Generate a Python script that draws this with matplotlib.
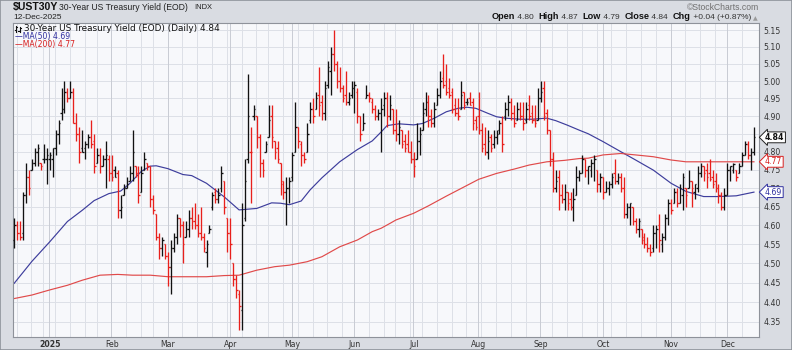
import numpy as np
import pandas as pd
import matplotlib
matplotlib.use("Agg")
import matplotlib.pyplot as plt
from matplotlib.collections import LineCollection
from matplotlib.lines import Line2D
from matplotlib import ticker, transforms
from matplotlib.patches import Rectangle

# ---------------- data ----------------
opens = [4.56, 4.60, 4.58, 4.58, 4.68, 4.73, 4.75, 4.77, 4.80, 4.77,
         4.78, 4.78, 4.78, 4.78, 4.81, 4.85, 4.91, 4.92, 4.97, 4.95,
         4.97, 4.88, 4.85, 4.81, 4.81, 4.82, 4.84, 4.83, 4.77, 4.79,
         4.76, 4.78, 4.78, 4.74, 4.75, 4.74, 4.64, 4.68, 4.70, 4.72,
         4.74, 4.76, 4.74, 4.69, 4.75, 4.77, 4.76, 4.67, 4.63, 4.57,
         4.54, 4.55, 4.52, 4.49, 4.54, 4.57, 4.62, 4.60, 4.57, 4.59,
         4.62, 4.61, 4.60, 4.58, 4.57, 4.53, 4.58, 4.65, 4.69, 4.67,
         4.70, 4.72, 4.62, 4.58, 4.50, 4.46, 4.42, 4.38, 4.62, 4.78,
         4.80, 4.90, 4.90, 4.84, 4.77, 4.80, 4.84, 4.90, 4.83, 4.81,
         4.77, 4.72, 4.69, 4.70, 4.73, 4.80, 4.87, 4.82, 4.79, 4.80,
         4.89, 4.92, 4.92, 4.96, 4.94, 4.91, 4.99, 5.03, 5.08, 5.05,
         5.00, 4.98, 4.96, 4.94, 4.96, 4.98, 4.97, 4.90, 4.86, 4.95,
         4.96, 4.94, 4.92, 4.90, 4.91, 4.93, 4.95, 4.90, 4.92, 4.86,
         4.85, 4.86, 4.83, 4.82, 4.80, 4.78, 4.78, 4.83, 4.86, 4.92,
         4.94, 4.90, 4.88, 4.93, 4.96, 5.01, 5.00, 4.98, 4.97, 4.93,
         4.91, 4.92, 4.97, 4.94, 4.95, 4.94, 4.89, 4.90, 4.86, 4.82,
         4.80, 4.84, 4.82, 4.84, 4.86, 4.88, 4.90, 4.92, 4.94, 4.91,
         4.89, 4.92, 4.90, 4.89, 4.93, 4.91, 4.89, 4.89, 4.95, 4.98,
         4.91, 4.86, 4.78, 4.70, 4.73, 4.68, 4.67, 4.69, 4.67, 4.65,
         4.68, 4.73, 4.74, 4.78, 4.75, 4.75, 4.77, 4.75, 4.71, 4.73,
         4.69, 4.70, 4.71, 4.74, 4.72, 4.73, 4.70, 4.63, 4.65, 4.65,
         4.61, 4.59, 4.59, 4.57, 4.55, 4.54, 4.54, 4.58, 4.60, 4.55,
         4.57, 4.62, 4.66, 4.66, 4.69, 4.66, 4.68, 4.70, 4.70, 4.72,
         4.69, 4.70, 4.74, 4.76, 4.75, 4.74, 4.73, 4.72, 4.70, 4.68,
         4.65, 4.68, 4.75, 4.75, 4.75, 4.74, 4.76, 4.79, 4.82, 4.79,
         4.80]
highs = [4.62, 4.61, 4.61, 4.69, 4.77, 4.75, 4.78, 4.81, 4.82, 4.77,
         4.82, 4.81, 4.80, 4.81, 4.86, 4.89, 4.98, 5.00, 4.98, 5.00,
         4.98, 4.91, 4.87, 4.86, 4.83, 4.85, 4.89, 4.85, 4.81, 4.81,
         4.79, 4.83, 4.79, 4.79, 4.76, 4.75, 4.68, 4.71, 4.73, 4.76,
         4.86, 4.76, 4.76, 4.76, 4.80, 4.77, 4.76, 4.68, 4.63, 4.58,
         4.57, 4.55, 4.53, 4.56, 4.58, 4.63, 4.62, 4.61, 4.61, 4.64,
         4.65, 4.66, 4.63, 4.65, 4.58, 4.56, 4.60, 4.69, 4.70, 4.70,
         4.76, 4.72, 4.62, 4.62, 4.50, 4.47, 4.43, 4.66, 4.78, 5.02,
         4.87, 4.93, 4.90, 4.85, 4.78, 4.83, 4.93, 4.93, 4.83, 4.83,
         4.77, 4.72, 4.73, 4.73, 4.80, 4.94, 4.87, 4.83, 4.80, 4.88,
         4.94, 4.95, 4.97, 5.04, 4.96, 5.00, 5.06, 5.10, 5.15, 5.06,
         5.04, 4.99, 5.03, 4.97, 5.00, 5.00, 4.98, 4.90, 4.91, 4.99,
         4.97, 4.95, 4.93, 4.92, 4.95, 4.97, 4.97, 4.96, 4.92, 4.92,
         4.89, 4.86, 4.85, 4.86, 4.83, 4.80, 4.88, 4.87, 4.94, 4.97,
         4.96, 4.92, 4.94, 4.98, 5.03, 5.08, 5.05, 5.01, 4.98, 4.95,
         4.95, 5.00, 4.97, 4.95, 4.97, 4.95, 4.90, 4.97, 4.88, 4.87,
         4.86, 4.85, 4.86, 4.86, 4.89, 4.90, 4.94, 4.96, 4.95, 4.93,
         4.94, 4.94, 4.94, 4.94, 4.96, 4.93, 4.93, 4.98, 5.00, 5.00,
         4.92, 4.86, 4.80, 4.75, 4.75, 4.71, 4.71, 4.69, 4.69, 4.70,
         4.76, 4.75, 4.79, 4.78, 4.76, 4.78, 4.79, 4.75, 4.74, 4.73,
         4.72, 4.72, 4.74, 4.78, 4.74, 4.74, 4.73, 4.66, 4.66, 4.65,
         4.62, 4.62, 4.59, 4.58, 4.57, 4.55, 4.60, 4.60, 4.63, 4.58,
         4.63, 4.67, 4.67, 4.70, 4.70, 4.71, 4.74, 4.70, 4.75, 4.72,
         4.71, 4.76, 4.77, 4.76, 4.77, 4.78, 4.75, 4.74, 4.71, 4.69,
         4.70, 4.77, 4.76, 4.77, 4.75, 4.77, 4.80, 4.83, 4.83, 4.81,
         4.87]
lows = [4.54, 4.56, 4.56, 4.56, 4.66, 4.68, 4.75, 4.76, 4.76, 4.75,
        4.77, 4.71, 4.75, 4.73, 4.79, 4.82, 4.89, 4.91, 4.94, 4.95,
        4.88, 4.83, 4.77, 4.80, 4.78, 4.81, 4.81, 4.74, 4.77, 4.74,
        4.76, 4.70, 4.72, 4.72, 4.73, 4.62, 4.62, 4.68, 4.70, 4.72,
        4.72, 4.73, 4.66, 4.69, 4.75, 4.75, 4.65, 4.63, 4.56, 4.51,
        4.52, 4.51, 4.44, 4.42, 4.53, 4.55, 4.57, 4.50, 4.57, 4.57,
        4.59, 4.59, 4.57, 4.56, 4.53, 4.49, 4.58, 4.64, 4.66, 4.66,
        4.69, 4.63, 4.53, 4.51, 4.44, 4.41, 4.33, 4.33, 4.61, 4.77,
        4.66, 4.89, 4.81, 4.73, 4.73, 4.80, 4.84, 4.81, 4.78, 4.77,
        4.68, 4.67, 4.60, 4.66, 4.72, 4.80, 4.81, 4.76, 4.77, 4.80,
        4.88, 4.88, 4.92, 4.90, 4.89, 4.89, 4.98, 4.96, 5.03, 4.98,
        4.97, 4.94, 4.93, 4.93, 4.95, 4.91, 4.88, 4.83, 4.86, 4.95,
        4.94, 4.91, 4.89, 4.89, 4.80, 4.90, 4.87, 4.89, 4.85, 4.83,
        4.82, 4.81, 4.80, 4.80, 4.77, 4.73, 4.78, 4.79, 4.86, 4.90,
        4.87, 4.87, 4.87, 4.93, 4.95, 4.98, 4.96, 4.95, 4.91, 4.90,
        4.89, 4.92, 4.92, 4.93, 4.93, 4.86, 4.86, 4.85, 4.80, 4.79,
        4.78, 4.80, 4.81, 4.82, 4.85, 4.80, 4.89, 4.90, 4.89, 4.87,
        4.89, 4.89, 4.86, 4.88, 4.89, 4.88, 4.87, 4.89, 4.94, 4.89,
        4.85, 4.76, 4.69, 4.69, 4.64, 4.66, 4.64, 4.64, 4.64, 4.61,
        4.68, 4.72, 4.74, 4.73, 4.71, 4.73, 4.72, 4.69, 4.69, 4.67,
        4.69, 4.68, 4.70, 4.71, 4.71, 4.69, 4.62, 4.62, 4.60, 4.60,
        4.58, 4.57, 4.55, 4.54, 4.53, 4.52, 4.53, 4.54, 4.53, 4.53,
        4.56, 4.60, 4.63, 4.66, 4.65, 4.66, 4.64, 4.65, 4.70, 4.65,
        4.67, 4.69, 4.73, 4.72, 4.70, 4.72, 4.70, 4.69, 4.66, 4.64,
        4.64, 4.68, 4.72, 4.74, 4.72, 4.74, 4.76, 4.79, 4.78, 4.75,
        4.79]
closes = [4.60, 4.58, 4.57, 4.68, 4.73, 4.70, 4.77, 4.80, 4.81, 4.76,
          4.78, 4.79, 4.79, 4.81, 4.85, 4.88, 4.92, 4.97, 4.95, 4.97,
          4.88, 4.85, 4.80, 4.80, 4.82, 4.84, 4.82, 4.76, 4.79, 4.76,
          4.78, 4.79, 4.74, 4.73, 4.73, 4.64, 4.65, 4.70, 4.71, 4.74,
          4.80, 4.74, 4.68, 4.74, 4.78, 4.76, 4.67, 4.64, 4.57, 4.54,
          4.56, 4.52, 4.49, 4.54, 4.57, 4.62, 4.60, 4.55, 4.59, 4.62,
          4.61, 4.60, 4.58, 4.57, 4.54, 4.55, 4.59, 4.68, 4.67, 4.68,
          4.74, 4.65, 4.58, 4.55, 4.46, 4.43, 4.39, 4.60, 4.72, 4.90,
          4.80, 4.92, 4.84, 4.77, 4.75, 4.82, 4.89, 4.84, 4.80, 4.78,
          4.71, 4.69, 4.70, 4.72, 4.79, 4.87, 4.83, 4.79, 4.78, 4.85,
          4.92, 4.90, 4.95, 4.93, 4.91, 4.98, 5.04, 5.08, 5.05, 5.00,
          4.98, 4.95, 4.94, 4.95, 4.98, 4.99, 4.90, 4.85, 4.88, 4.96,
          4.95, 4.92, 4.90, 4.91, 4.92, 4.95, 4.90, 4.93, 4.86, 4.85,
          4.87, 4.82, 4.81, 4.80, 4.78, 4.76, 4.83, 4.85, 4.91, 4.94,
          4.90, 4.88, 4.92, 4.96, 5.00, 4.99, 4.97, 4.96, 4.92, 4.91,
          4.90, 4.96, 4.93, 4.94, 4.93, 4.88, 4.87, 4.86, 4.81, 4.80,
          4.83, 4.81, 4.84, 4.85, 4.88, 4.82, 4.92, 4.94, 4.91, 4.88,
          4.92, 4.90, 4.88, 4.92, 4.90, 4.89, 4.88, 4.95, 4.97, 4.90,
          4.86, 4.78, 4.70, 4.72, 4.68, 4.67, 4.69, 4.66, 4.65, 4.67,
          4.73, 4.74, 4.78, 4.75, 4.76, 4.77, 4.78, 4.71, 4.73, 4.69,
          4.70, 4.71, 4.73, 4.72, 4.73, 4.70, 4.63, 4.65, 4.66, 4.61,
          4.59, 4.61, 4.56, 4.55, 4.54, 4.53, 4.58, 4.59, 4.56, 4.57,
          4.62, 4.66, 4.64, 4.69, 4.66, 4.70, 4.73, 4.68, 4.72, 4.70,
          4.71, 4.74, 4.76, 4.74, 4.73, 4.725, 4.71, 4.70, 4.68, 4.65,
          4.68, 4.75, 4.76, 4.765, 4.73, 4.76, 4.79, 4.82, 4.79, 4.80,
          4.84]

ma50_idx = [0, 6, 12, 18, 23, 27, 32, 36, 39, 43, 46, 48, 52, 57, 60, 65, 71, 76, 82, 87,
            90, 93, 97, 100, 104, 110, 116, 121, 124, 126, 130, 135, 138, 142, 146, 150, 153, 156, 160, 163,
            166, 171, 175, 180, 183, 187, 191, 194, 199, 205, 210, 216, 222, 227, 233, 238, 244, 250]
ma50_val = [4.448, 4.505, 4.556, 4.610, 4.640, 4.666, 4.685, 4.692, 4.712, 4.746,
            4.760, 4.761, 4.753, 4.737, 4.734, 4.713, 4.676, 4.641, 4.645, 4.660,
            4.659, 4.655, 4.665, 4.695, 4.728, 4.772, 4.806, 4.830, 4.855, 4.873,
            4.878, 4.875, 4.879, 4.894, 4.912, 4.922, 4.925, 4.922, 4.908, 4.898,
            4.894, 4.891, 4.891, 4.894, 4.887, 4.874, 4.860, 4.850, 4.828, 4.800,
            4.777, 4.749, 4.713, 4.691, 4.677, 4.677, 4.679, 4.689]
ma200_idx = [0, 6, 12, 18, 23, 29, 35, 40, 46, 52, 57, 65, 71, 76, 82, 88, 93, 99, 104, 110,
             116, 121, 124, 127, 129, 135, 140, 146, 152, 157, 163, 169, 174, 180, 186, 191, 194, 199, 205, 210,
             216, 222, 227, 233, 239, 244, 250]
ma200_val = [4.409, 4.418, 4.431, 4.443, 4.456, 4.469, 4.471, 4.469, 4.469, 4.465,
             4.465, 4.465, 4.468, 4.469, 4.482, 4.491, 4.495, 4.504, 4.517, 4.543,
             4.561, 4.583, 4.592, 4.605, 4.614, 4.632, 4.652, 4.678, 4.703, 4.724,
             4.740, 4.752, 4.763, 4.772, 4.776, 4.781, 4.782, 4.791, 4.795, 4.791,
             4.786, 4.777, 4.772, 4.772, 4.772, 4.772, 4.772]

ytick_vals = [4.35, 4.40, 4.45, 4.50, 4.55, 4.60, 4.65, 4.70, 4.75, 4.80,
              4.85, 4.90, 4.95, 5.00, 5.05, 5.10, 5.15]
month_labels = ['2025', 'Feb', 'Mar', 'Apr', 'May', 'Jun', 'Jul', 'Aug',
                'Sep', 'Oct', 'Nov', 'Dec']
holidays = ['2024-12-25', '2025-01-01', '2025-01-20', '2025-02-17', '2025-04-18',
            '2025-05-26', '2025-06-19', '2025-07-04', '2025-09-01', '2025-11-27']
header_parts = [('Open', True), (' 4.80  ', False), ('High', True), (' 4.87  ', False),
                ('Low', True), (' 4.79  ', False), ('Close', True), (' 4.84  ', False),
                ('Chg', True), (' +0.04 (+0.87%) ', False), ('\u25b2', False)]

# ---------------- calendar ----------------
dates = pd.bdate_range('2024-11-01', '2025-12-12')
dates = dates[~dates.isin(pd.to_datetime(holidays))]
n = len(closes)
dates = dates[-n:]
week_starts = [i for i in range(1, n) if dates[i].weekday() < dates[i - 1].weekday()]
month_starts = [i for i in range(1, n) if dates[i].month != dates[i - 1].month
                and dates[i].year == 2025]

# ---------------- figure ----------------
W, H = 792, 350
fig = plt.figure(figsize=(W / 100, H / 100), dpi=100)
fig.patch.set_facecolor('#d9dce2')


def fx(x):
    return x / W


def fy(y):
    return 1 - y / H


L, R, T, B = 13, 759, 23, 337
ax = fig.add_axes([fx(L), fy(B), (R - L) / W, (B - T) / H])
ax.set_facecolor('#f7f8fb')
ax.set_yscale('log')
ax.set_ylim(4.312, 5.171)
ax.set_xlim(-0.4, 251.7)

GRID = '#dde0e7'
MGRID = '#c9ccd4'
for v in ytick_vals:
    ax.axhline(v, color=GRID, lw=0.7, zorder=0.5)
for i in week_starts:
    ax.axvline(i - 0.15, color=(MGRID if i in month_starts else GRID), lw=0.7, zorder=0.5)
for i in month_starts:
    ax.axvline(i - 0.15, color=MGRID, lw=0.7, zorder=0.6)

# OHLC bars
BLACK = '#111111'
RED = '#e8201c'
segs, cols = [], []
for i in range(n):
    c = BLACK if (i == 0 or closes[i] >= closes[i - 1]) else RED
    segs.append([(i, lows[i]), (i, highs[i])])
    segs.append([(i - 0.5, opens[i]), (i, opens[i])])
    segs.append([(i, closes[i]), (i + 0.5, closes[i])])
    cols += [c, c, c]
ax.add_collection(LineCollection(segs, colors=cols, linewidths=0.95, capstyle='butt', zorder=3))

# moving averages
ax.plot(ma50_idx, ma50_val, color='#3d3d9c', lw=0.85, zorder=2.5)
ax.plot(ma200_idx, ma200_val, color='#e04a4a', lw=0.85, zorder=2.5)

# axes formatting
ytick_labels = ['%.2f' % v for v in ytick_vals]
ytick_labels[ytick_vals.index(4.85)] = ''   # hidden behind the last-close tag
ax.yaxis.set_major_locator(ticker.FixedLocator(ytick_vals))
ax.yaxis.set_minor_locator(ticker.NullLocator())
ax.yaxis.set_major_formatter(ticker.FixedFormatter(ytick_labels))
ax.yaxis.tick_right()
ax.set_xticks(month_starts)
ax.set_xticklabels(month_labels)
ax.xaxis.set_minor_locator(ticker.NullLocator())
ax.tick_params(axis='y', length=0, pad=3, labelsize=5.6, labelcolor='#333333')
ax.tick_params(axis='x', length=0, pad=2.5, labelsize=5.6, labelcolor='#333333')
ax.get_xticklabels()[0].set_fontweight('bold')
for s in ax.spines.values():
    s.set_color('#8e929a')
    s.set_linewidth(0.8)

# right-side value tags
trans = transforms.blended_transform_factory(ax.transAxes, ax.transData)
xt = (765 - L) / (R - L)
tags = [(closes[-1], '#111111', '#222222', 'bold'),
        (ma200_val[-1], '#d82020', '#d82020', 'normal'),
        (ma50_val[-1], '#3030a0', '#3030a0', 'normal')]
for val, tc, ec, fw in tags:
    ax.text(xt, val, '%.2f' % val, transform=trans, ha='left', va='center',
            fontsize=5.6, fontweight=fw, color=tc, clip_on=False, zorder=10,
            bbox=dict(boxstyle='larrow,pad=0.12', fc='white', ec=ec, lw=0.7))

# ---------------- header texts ----------------
HF = ['Liberation Sans', 'DejaVu Sans']
fig.text(fx(13), fy(7), '$UST30Y', fontsize=7.6, fontweight='bold', family=HF,
         ha='left', va='center', color='#111111')
fig.text(fx(59), fy(7.2), '30-Year US Treasury Yield (EOD)', fontsize=6.2, family=HF,
         ha='left', va='center', color='#222222')
fig.text(fx(194), fy(7.5), 'INDX', fontsize=5.4, family=HF, ha='left', va='center',
         color='#222222')
fig.text(fx(13), fy(17.5), '12-Dec-2025', fontsize=6.0, family=HF, ha='left', va='center',
         color='#222222')
fig.text(fx(759), fy(7), '\u00a9StockCharts.com', fontsize=6.2, family=HF, ha='right',
         va='center', color='#707070')

anchor = None
for txt, bold in reversed(header_parts):
    kw = dict(fontsize=(6.6 if bold else 6.0), fontweight=('bold' if bold else 'normal'),
              family=HF, color=('#111111' if bold else '#333333'))
    if txt == '\u25b2':
        kw.update(color='#9a9a9a', fontsize=4.4, family=['DejaVu Sans'])
    if anchor is None:
        anchor = fig.text(fx(758), fy(20), txt, ha='right', va='baseline', **kw)
    else:
        anchor = fig.text(0, 0, txt, ha='right', va='baseline',
                          transform=transforms.offset_copy(fig.transFigure, fig=fig, x=0, y=0), **kw) \
            if False else ax.annotate(txt, xy=(0, 0), xycoords=anchor, ha='right', va='bottom',
                                      annotation_clip=False, **kw)

# in-plot legend (small OHLC glyph + series names)
for (x0, x1, y0, y1) in [(16, 16, 25.5, 31.5), (14.8, 16, 29.5, 29.5), (16, 17.2, 27, 27),
                         (19.5, 19.5, 26.5, 31.8), (18.3, 19.5, 30.5, 30.5), (19.5, 20.7, 28, 28)]:
    fig.add_artist(Line2D([fx(x0), fx(x1)], [fy(y0), fy(y1)], color='#111111', lw=0.8))
fig.text(fx(24), fy(28.8), '30-Year US Treasury Yield (EOD) (Daily) %.2f' % closes[-1],
         fontsize=6.4, family='DejaVu Sans', color='#111111', ha='left', va='center')
fig.text(fx(15), fy(36.5), '\u2014MA(50) %.2f' % ma50_val[-1], fontsize=5.6,
         family='DejaVu Sans', color='#3030a0', ha='left', va='center')
fig.text(fx(15), fy(45), '\u2014MA(200) %.2f' % ma200_val[-1], fontsize=5.6,
         family='DejaVu Sans', color='#d82020', ha='left', va='center')

fig.add_artist(Rectangle((0, 0), 1, 1, transform=fig.transFigure, fill=False,
                         ec='#8e939b', lw=1.2))

fig.savefig('out.png', dpi=100, facecolor=fig.get_facecolor())
